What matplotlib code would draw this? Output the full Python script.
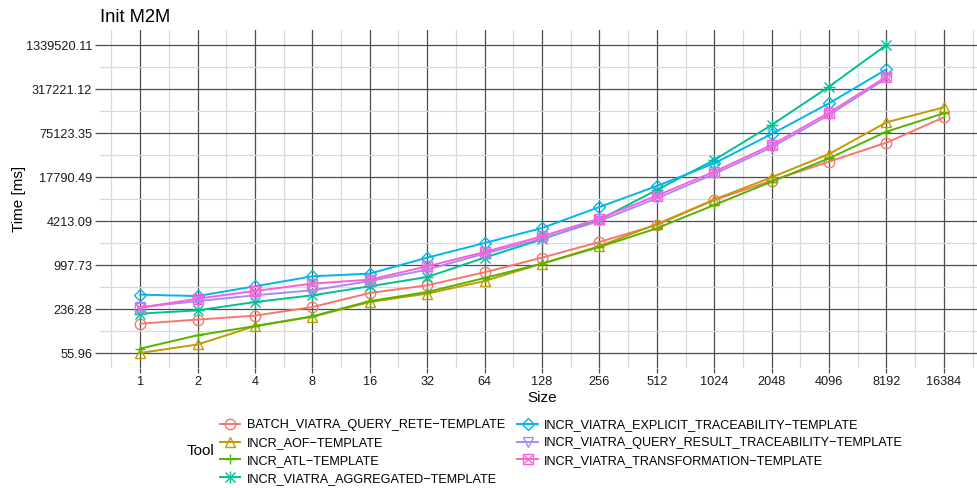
import numpy as np
from matplotlib import pyplot as plt
from matplotlib.lines import Line2D
from matplotlib.ticker import FixedLocator, NullFormatter

# --- data ---
sizes = [1, 2, 4, 8, 16, 32, 64, 128, 256, 512, 1024, 2048, 4096, 8192, 16384]

batch = [146, 167, 190, 252, 399, 513, 786, 1270, 2120, 3700, 8380, 15780,
         29420, 54700, 125600]
aof = [55.96, 74, 135, 183, 297, 391, 591, 1044, 1850, 3800, 8500, 17620,
       37760, 106600, 174200]
atl = [64.6, 100, 135, 186, 306, 412, 652, 1044, 1798, 3318, 7110, 15270,
       32800, 78500, 143200]
aggregated = [203, 226, 297, 370, 497, 673, 1270, 2310, 4400, 11640, 31040,
              97700, 342600, 1339520.11]
explicit = [378, 361, 497, 689, 753, 1270, 2050, 3349, 6660, 13240, 27850,
            72740, 198600, 604000]
query_result = [250, 306, 370, 436, 590, 858, 1450, 2367, 4213, 8850, 19630,
                47000, 135500, 450000]
transformation = [247, 332, 426, 543, 618, 956, 1527, 2552, 4560, 9660, 21170,
                  50700, 146200, 475000]

tools = ['BATCH_VIATRA_QUERY_RETE\u2212TEMPLATE',
         'INCR_AOF\u2212TEMPLATE',
         'INCR_ATL\u2212TEMPLATE',
         'INCR_VIATRA_AGGREGATED\u2212TEMPLATE',
         'INCR_VIATRA_EXPLICIT_TRACEABILITY\u2212TEMPLATE',
         'INCR_VIATRA_QUERY_RESULT_TRACEABILITY\u2212TEMPLATE',
         'INCR_VIATRA_TRANSFORMATION\u2212TEMPLATE']
series = [batch, aof, atl, aggregated, explicit, query_result, transformation]

y_ticks = [55.96, 236.28, 997.73, 4213.09, 17790.49, 75123.35, 317221.12,
           1339520.11]
y_tick_labels = ['55.96', '236.28', '997.73', '4213.09', '17790.49',
                 '75123.35', '317221.12', '1339520.11']

# ggplot hue palette and shapes
colors = ['#F8766D', '#C49A00', '#53B400', '#00C094', '#00B6EB', '#A58AFF',
          '#FB61D7']
markers = ['o', '^', '+', 'x', 'D', 'v', 's']

plt.rcParams['font.family'] = ['Liberation Sans', 'DejaVu Sans']

W, H = 977, 488
fig = plt.figure(figsize=(W / 100, H / 100), dpi=100)

# panel in pixels (ggplot expands 5% on both sides, right side runs off)
left, right, top, bottom = 100, 984, 29.6, 368.4
ax = fig.add_axes([left / W, 1 - bottom / H, (right - left) / W,
                   (bottom - top) / H])

handles = []
for vals, col, mk, name in zip(series, colors, markers, tools):
    x = sizes[:len(vals)]
    ms = 7.5 if mk != 'D' else 6.5
    ln, = ax.plot(x, vals, color=col, lw=1.4, marker=mk, ms=ms, mfc='none',
                  mec=col, mew=1.0, zorder=3)
    h = ln
    # asterisk = x + plus, square with a cross inside
    extra = {'x': ('+', 8.5), 's': ('x', 6)}.get(mk)
    if extra:
        ax.plot(x, vals, ls='none', marker=extra[0], ms=extra[1], mec=col,
                mew=1.0, zorder=3)
        h2 = Line2D([], [], ls='none', marker=extra[0], ms=extra[1], mec=col,
                    mew=1.0)
        h = (ln, h2)
    handles.append(h)

ax.set_xscale('log', base=2)
ax.set_yscale('log')

lx = np.log2(sizes)
xr = lx.max() - lx.min()
ax.set_xlim(2 ** (lx.min() - 0.05 * xr), 2 ** (lx.max() + 0.05 * xr))
ly = np.log10(y_ticks)
yr = ly.max() - ly.min()
ax.set_ylim(10 ** (ly.min() - 0.05 * yr), 10 ** (ly.max() + 0.05 * yr))

ax.xaxis.set_major_locator(FixedLocator(sizes))
ax.set_xticklabels([str(s) for s in sizes])
ax.xaxis.set_minor_locator(FixedLocator(2 ** np.arange(-0.5, 15, 1.0)))
ax.xaxis.set_minor_formatter(NullFormatter())

ax.yaxis.set_major_locator(FixedLocator(y_ticks))
ax.set_yticklabels(y_tick_labels)
ymin = [np.sqrt(y_ticks[i] * y_ticks[i + 1]) for i in range(len(y_ticks) - 1)]
ax.yaxis.set_minor_locator(FixedLocator(ymin))
ax.yaxis.set_minor_formatter(NullFormatter())

ax.grid(which='major', color='#4d4d4d', lw=0.9, zorder=1)
ax.grid(which='minor', color='#d9d9d9', lw=0.9, zorder=0)
ax.set_axisbelow(True)
for s in ax.spines.values():
    s.set_visible(False)
ax.tick_params(which='major', length=3.5, width=0.9, color='#4d4d4d',
               labelsize=9.2, labelcolor='#1a1a1a', pad=2)
ax.tick_params(which='minor', length=0)

ax.set_xlabel('Size', fontsize=11, labelpad=2)
ax.set_ylabel('Time [ms]', fontsize=11, labelpad=0)
fig.text(left / W, 1 - 17 / H, 'Init M2M', fontsize=13.2, va='center',
         ha='left')

leg = fig.legend(handles, tools, ncol=2, frameon=False, fontsize=9.1,
                 loc='upper left', bbox_to_anchor=(220 / W, 1 - 419 / H),
                 handlelength=1.6, handletextpad=0.5, labelspacing=0.47,
                 columnspacing=1.0, borderaxespad=0, borderpad=0)
fig.text(187 / W, 1 - 451 / H, 'Tool', fontsize=11, va='center', ha='left')

fig.savefig('out.png', dpi=100)
